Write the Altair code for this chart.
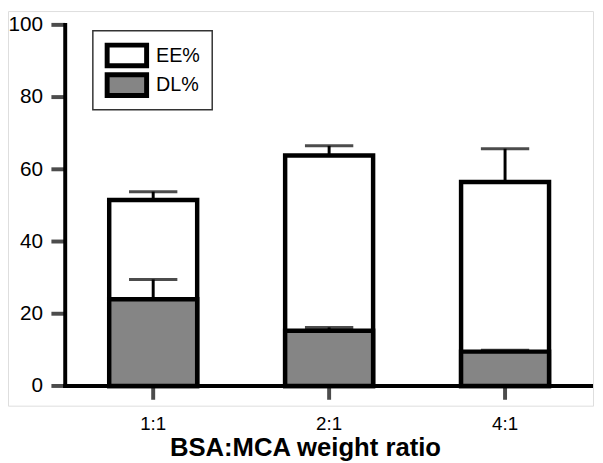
import altair as alt
import pandas as pd

ratios = ["1:1", "2:1", "4:1"]
ee = [51.5, 63.8, 56.5]
ee_err = [2.3, 2.7, 9.2]
dl = [24.0, 15.3, 9.5]
dl_err = [5.5, 0.9, 0.4]
series = ["EE%", "DL%"]
series_fill = ["white", "#858585"]
y_ticks = [0, 20, 40, 60, 80, 100]

df = pd.DataFrame({
    "ratio": ratios,
    "ee": ee,
    "ee_hi": [v + e for v, e in zip(ee, ee_err)],
    "dl": dl,
    "dl_hi": [v + e for v, e in zip(dl, dl_err)],
})
tick_df = pd.DataFrame({"t": y_ticks})
dom_df = pd.DataFrame({"lo": [y_ticks[0]], "hi": [y_ticks[-1]]})
one = pd.DataFrame({"k": [0]})

FONT = "Liberation Sans"
W, H = 593, 400          # whole drawing area (axes drawn inside it)
X0, X1 = 58, 593         # x range of the bars' band scale
Y0, Y1 = 380, 14         # pixel positions of 0 and 100

xaxis = alt.Axis(title="BSA:MCA weight ratio", labelAngle=0, ticks=False, domain=False,
                 labelFontSize=19, labelPadding=9,
                 titleFontSize=26, titleFontWeight="bold", titlePadding=1,
                 titleX=301, titleAnchor="middle")
x = alt.X("ratio:N", sort=ratios,
          scale=alt.Scale(paddingInner=0.5, paddingOuter=0.25, range=[X0, X1]),
          axis=xaxis)
yscale = alt.Scale(domain=[0, 100], nice=False, range=[Y0, Y1])
yaxis = alt.Axis(title=None, values=y_ticks, labelFontSize=21, offset=-35,
                 ticks=False, domain=False, labelPadding=0, grid=False)

base = alt.Chart(df)

ee_rule = base.mark_rule(color="black", strokeWidth=3).encode(
    x=x, y=alt.Y("ee:Q", scale=yscale, axis=yaxis), y2="ee_hi:Q")
ee_cap = base.mark_tick(color="black", size=49, thickness=3).encode(
    x=x, y=alt.Y("ee_hi:Q", scale=yscale, axis=yaxis))
ee_bar = base.mark_bar(stroke="black", strokeWidth=4.5, fill=series_fill[0]).encode(
    x=x, y=alt.Y("ee:Q", scale=yscale, axis=yaxis))
dl_rule = base.mark_rule(color="black", strokeWidth=3).encode(
    x=x, y=alt.Y("dl:Q", scale=yscale, axis=yaxis), y2="dl_hi:Q")
dl_cap = base.mark_tick(color="black", size=49, thickness=3).encode(
    x=x, y=alt.Y("dl_hi:Q", scale=yscale, axis=yaxis))
dl_bar = base.mark_bar(stroke="black", strokeWidth=4.5, fill=series_fill[1]).encode(
    x=x, y=alt.Y("dl:Q", scale=yscale, axis=yaxis))

# axis lines and ticks
y_dom = alt.Chart(dom_df).mark_rule(color="black", strokeWidth=4, strokeCap="square").encode(
    x=alt.value(X0), y=alt.Y("lo:Q", scale=yscale, axis=yaxis), y2="hi:Q")
y_tk = alt.Chart(tick_df).mark_tick(color="black", size=14, thickness=4,
                                    orient="horizontal").encode(
    x=alt.value(X0 - 7), y=alt.Y("t:Q", scale=yscale, axis=yaxis))
x_dom = alt.Chart(dom_df).mark_rule(color="black", strokeWidth=4).encode(
    x=alt.value(X0 - 2), x2=alt.value(X1), y=alt.Y("lo:Q", scale=yscale, axis=yaxis))
x_tk = base.mark_tick(color="black", size=14, thickness=4, orient="vertical").encode(
    x=x, y=alt.value(Y0 + 7))

# legend
leg_box = alt.Chart(one).mark_rect(fill="white", stroke="#333", strokeWidth=1.5).encode(
    x=alt.value(86), x2=alt.value(207), y=alt.value(20), y2=alt.value(100))
leg_layers = []
for i, (name, col) in enumerate(zip(series, series_fill)):
    top = 34.5 + 30 * i
    leg_layers.append(alt.Chart(one).mark_rect(fill=col, stroke="black", strokeWidth=5).encode(
        x=alt.value(100.5), x2=alt.value(140.5), y=alt.value(top), y2=alt.value(top + 21)))
    leg_layers.append(alt.Chart(one).mark_text(
        text=name, align="left", baseline="middle", fontSize=20, font=FONT,
        color="black").encode(x=alt.value(150), y=alt.value(top + 11)))

chart = alt.layer(ee_rule, ee_cap, ee_bar, dl_rule, dl_cap, dl_bar,
                  y_dom, y_tk, x_dom, x_tk, leg_box, *leg_layers).properties(
    width=W, height=H,
    autosize=alt.AutoSizeParams(type="none"),
    padding={"left": 0, "top": 0, "right": 2, "bottom": 55},
).configure_view(stroke="transparent", strokeWidth=0).configure_axis(
    labelColor="black", titleColor="black",
    labelFont=FONT, titleFont=FONT
).configure(background="white")

chart.save("out.html", embed_options={"renderer": "svg", "actions": False})
